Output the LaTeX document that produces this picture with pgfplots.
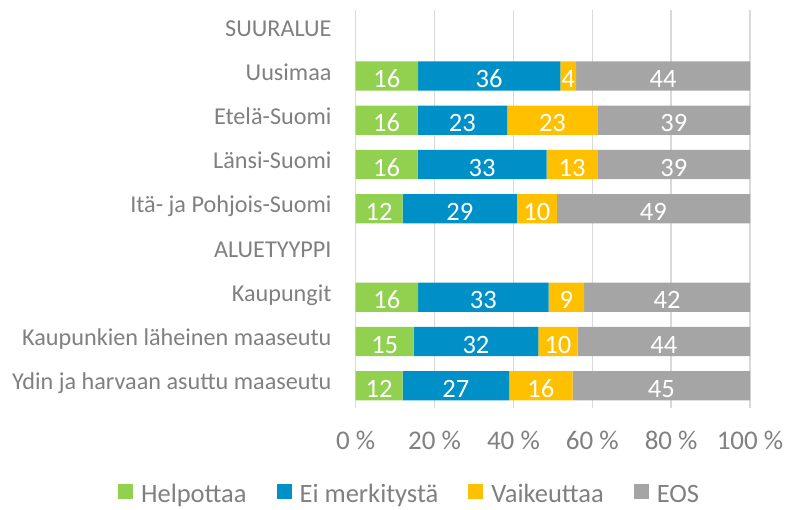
\documentclass[border=0pt]{standalone}
\usepackage{fontspec}
\setmainfont{Carlito}
\usepackage{pgfplots}
\usepackage{pgfplotstable}
\pgfplotsset{compat=1.18}
\definecolor{cgreen}{HTML}{92D050}
\definecolor{cblue}{HTML}{0090C8}
\definecolor{cyellow}{HTML}{FFC000}
\definecolor{cgray}{HTML}{A5A5A5}
\definecolor{ctext}{HTML}{808080}
\definecolor{cgrid}{HTML}{D9D9D9}
\pgfplotstableread{
row g b y e
1 15.8 36.1 4.0 44.1
2 15.7 22.7 23.0 38.6
3 15.7 32.7 13.0 38.6
4 11.9 29.0 10.1 49.0
6 15.8 33.1 9.0 42.1
7 14.7 31.6 10.0 43.7
8 11.9 27.0 16.1 45.0
}\data
\pgfplotsset{
  myax/.style={
    at={(355.7pt,102.2pt)}, anchor=south west,
    scale only axis, width=394.3pt, height=398.1pt,
    xmin=0, xmax=100, ymin=-0.5, ymax=8.5, y dir=reverse,
    enlargelimits=false,
    /pgf/number format/assume math mode=true,
  },
  lab/.style={only marks, mark=none, forget plot, point meta=explicit,
    nodes near coords={\pgfmathprintnumber[fixed,precision=0]{\pgfplotspointmeta}},
    every node near coord/.append style={anchor=center, text=white, inner sep=0pt,
      font=\fontsize{26.5}{30}\selectfont, text height=0.634em, text depth=0pt, yshift=-8.4pt}},
}
\begin{document}
\begin{tikzpicture}
\useasboundingbox (0,0) rectangle (786pt,510pt);
\begin{axis}[myax,
  xbar stacked, bar width=29.3pt,
  axis line style={draw=none},
  major tick length=0pt,
  xtick={0,20,...,100},
  xticklabel={\pgfmathprintnumber{\tick}~\%},
  xmajorgrids, grid style={cgrid, line width=1.3pt},
  ytick={0,...,8},
  yticklabels={SUURALUE,Uusimaa,Etelä-Suomi,Länsi-Suomi,Itä- ja Pohjois-Suomi,ALUETYYPPI,Kaupungit,Kaupunkien läheinen maaseutu,Ydin ja harvaan asuttu maaseutu},
  yticklabel style={anchor=east, inner sep=0pt, text=ctext, font=\fontsize{24.2}{28}\selectfont, text height=0.644em, text depth=0pt, xshift=-24pt, yshift=-1pt},
  xticklabel style={anchor=north, inner sep=0pt, text=ctext, font=\fontsize{27}{31}\selectfont, text height=0.634em, text depth=0pt, yshift=-35pt},
  legend columns=4,
  legend style={at={(0.134,-0.2140)}, anchor=center, draw=none, fill=none, inner sep=0pt,
    font=\fontsize{26.5}{30}\selectfont, text=ctext,
    nodes={inner sep=0pt, text height=0.644em, text depth=0pt},
    /tikz/every odd column/.append style={column sep=8pt},
    /tikz/every even column/.append style={column sep=30pt}},
  legend image code/.code={\fill[#1] (0pt,0pt) rectangle (15pt,15pt);},
]
\addplot[fill=cgreen, draw=none] table[x=g, y=row] {\data};
\addplot[fill=cblue, draw=none] table[x=b, y=row] {\data};
\addplot[fill=cyellow, draw=none] table[x=y, y=row] {\data};
\addplot[fill=cgray, draw=none] table[x=e, y=row] {\data};
\legend{Helpottaa, Ei merkitystä, Vaikeuttaa, EOS}
\end{axis}
\begin{axis}[myax, hide axis]
\addplot[lab] table[x expr=\thisrow{g}/2, y=row, meta=g] {\data};
\addplot[lab] table[x expr=\thisrow{g}+\thisrow{b}/2, y=row, meta=b] {\data};
\addplot[lab] table[x expr=\thisrow{g}+\thisrow{b}+\thisrow{y}/2, y=row, meta=y] {\data};
\addplot[lab] table[x expr=\thisrow{g}+\thisrow{b}+\thisrow{y}+\thisrow{e}/2, y=row, meta=e] {\data};
\end{axis}
\end{tikzpicture}
\end{document}
